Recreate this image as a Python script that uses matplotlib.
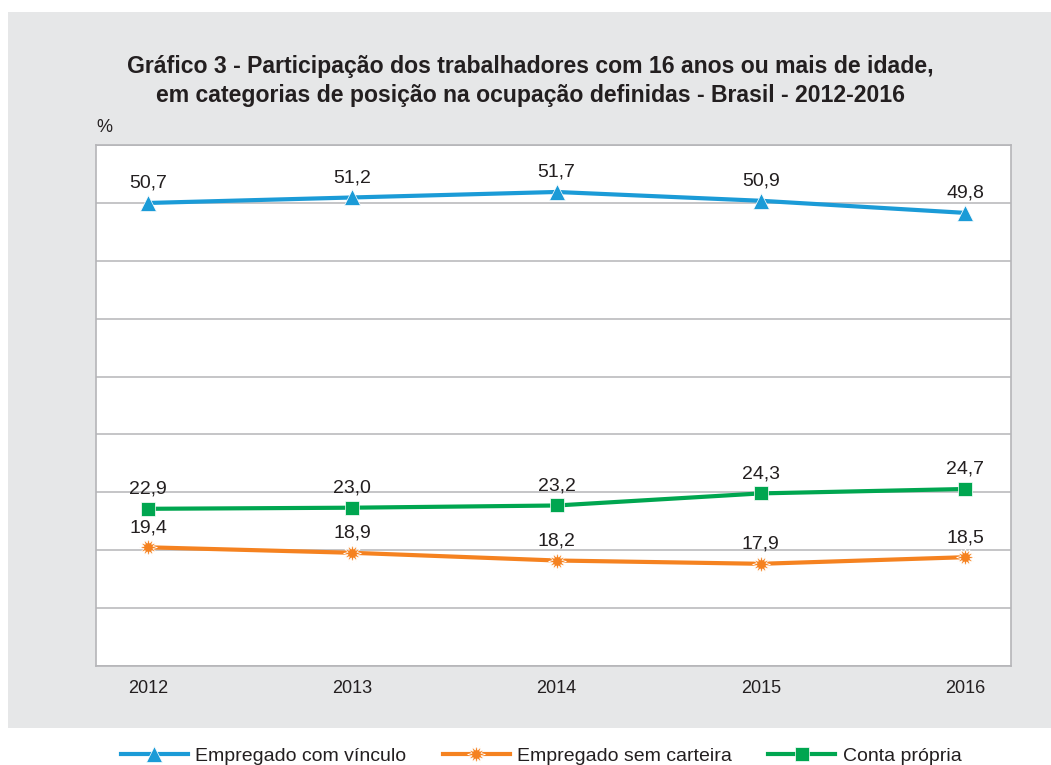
import numpy as np
import matplotlib.pyplot as plt
from matplotlib.patches import Rectangle

plt.rcParams['font.family'] = ['Liberation Sans', 'DejaVu Sans']

# data
years = [2012, 2013, 2014, 2015, 2016]
com_vinculo = [50.7, 51.2, 51.7, 50.9, 49.8]
sem_carteira = [19.4, 18.9, 18.2, 17.9, 18.5]
conta_propria = [22.9, 23.0, 23.2, 24.3, 24.7]
series_names = ['Empregado com vínculo', 'Empregado sem carteira', 'Conta própria']

fig = plt.figure(figsize=(10.51, 7.65), dpi=100)

# gray panel behind the chart
fig.patches.append(Rectangle((8 / 1051, 37 / 765), 1 - 8 / 1051, 716 / 765,
                             transform=fig.transFigure, facecolor='#e6e7e8',
                             edgecolor='none', zorder=-10))

ax = fig.add_axes([96 / 1051, 99 / 765, 915 / 1051, 521 / 765])
ax.set_zorder(1)
ax.set_facecolor('white')

ymin, ymax = 8.61, 55.97
ax.set_ylim(ymin, ymax)
ax.set_xlim(2011.745, 2016.225)
ax.set_yticks(np.linspace(ymin, ymax, 10))
ax.set_yticklabels([])
ax.tick_params(axis='y', length=0)
ax.tick_params(axis='x', length=0, labelsize=13, pad=10, colors='#231f20')
ax.set_xticks(years)
ax.grid(axis='y', color='#b5b5b8', linewidth=1.1)
ax.set_axisbelow(True)
for s in ax.spines.values():
    s.set_color('#b5b5b8')
    s.set_linewidth(1.2)

styles = [
    (com_vinculo, '#1b9bd7', '^', 11),
    (sem_carteira, '#f58220', (12, 1, 0), 13),
    (conta_propria, '#00a650', 's', 9.5),
]
handles = []
for (vals, color, marker, ms), name in zip(styles, series_names):
    h, = ax.plot(years, vals, color=color, linewidth=3, marker=marker,
                 markersize=ms, markeredgewidth=0.5, markeredgecolor='white',
                 label=name, zorder=3)
    handles.append(h)
    for x, v in zip(years, vals):
        ax.annotate(f'{v:.1f}'.replace('.', ','), (x, v), xytext=(0, 8),
                    textcoords='offset points', ha='center', va='bottom',
                    fontsize=14, color='#231f20')

fig.text(0.505, 1 - 81 / 765, 'Gráfico 3 - Participação dos trabalhadores com 16 anos ou mais de idade,\n'
         'em categorias de posição na ocupação definidas - Brasil - 2012-2016',
         ha='center', va='center', fontsize=16.6, fontweight='bold',
         color='#231f20', linespacing=1.32)
fig.text(96 / 1051, 1 - 128 / 765, '%', ha='left', va='center', fontsize=13,
         color='#231f20')

fig.legend(handles=handles, loc='center', bbox_to_anchor=(0.515, 1 - 756 / 765),
           ncol=3, frameon=False, fontsize=14, handlelength=3.45,
           columnspacing=1.85, handletextpad=0.4, labelcolor='#231f20')

fig.savefig('out.png', dpi=100)
